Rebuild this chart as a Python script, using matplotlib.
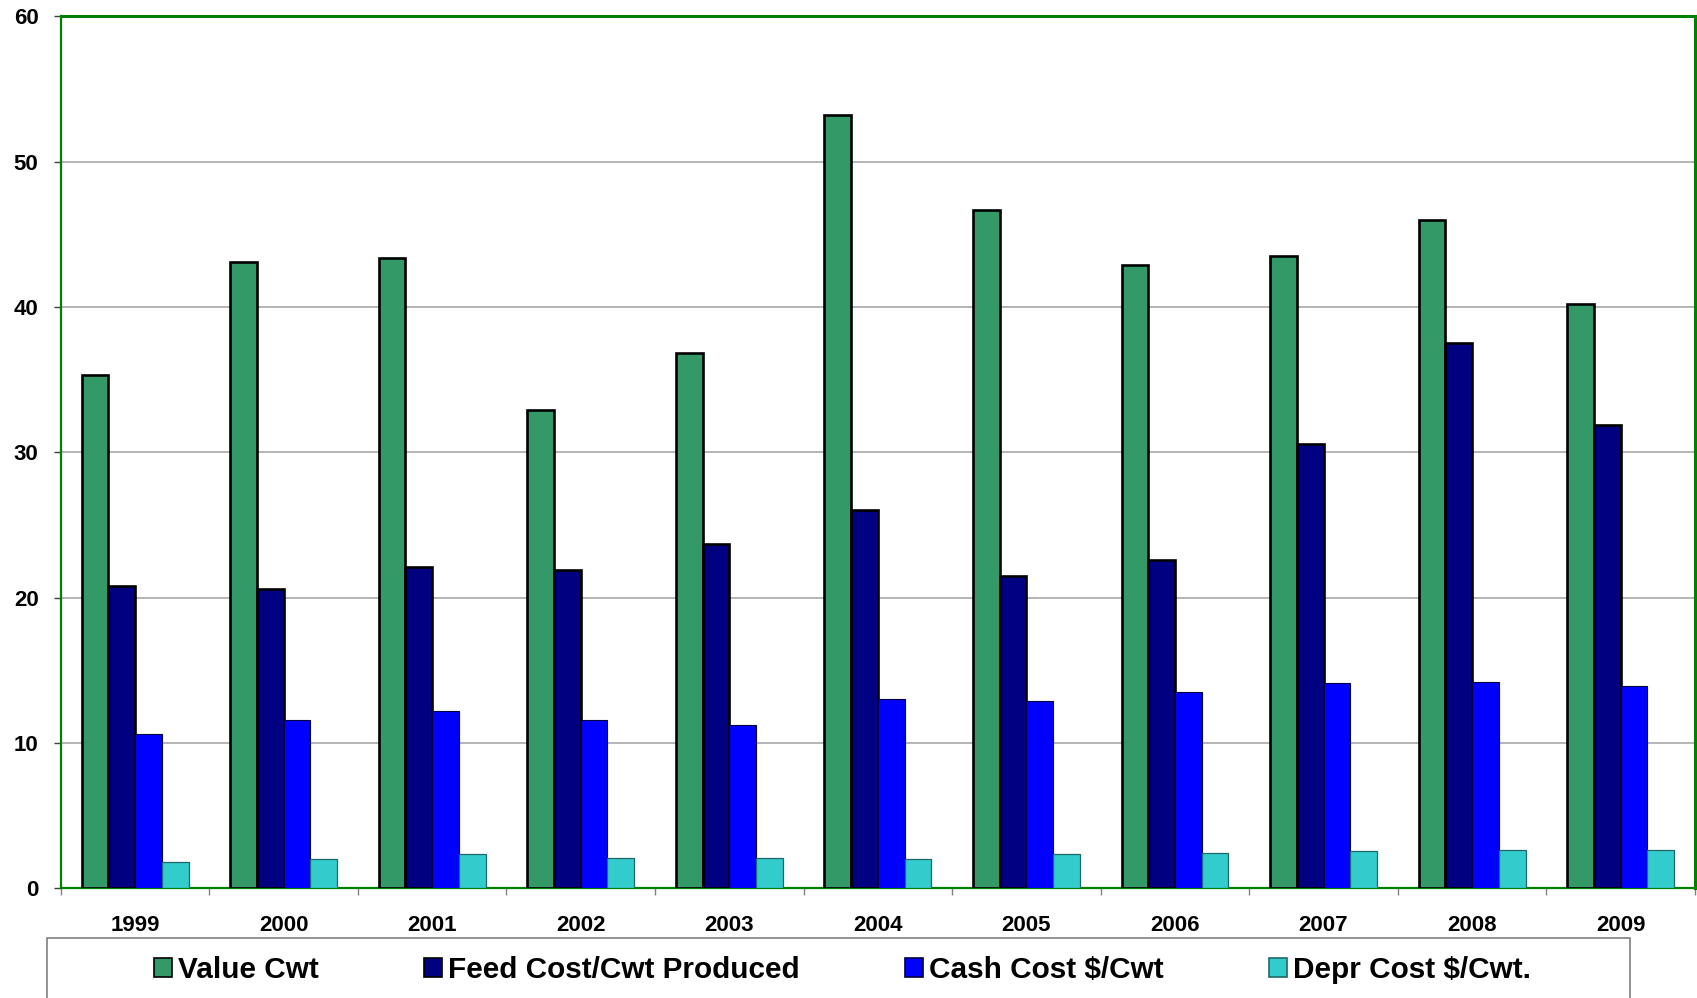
import matplotlib
matplotlib.use("Agg")
import matplotlib.pyplot as plt
import numpy as np
from matplotlib.patches import Rectangle, Patch

years = ["1999", "2000", "2001", "2002", "2003", "2004", "2005", "2006", "2007", "2008", "2009"]
value_cwt = [35.3, 43.1, 43.4, 32.9, 36.8, 53.2, 46.7, 42.9, 43.5, 46.0, 40.2]
feed_cost = [20.8, 20.6, 22.1, 21.9, 23.7, 26.0, 21.5, 22.6, 30.6, 37.5, 31.9]
cash_cost = [10.6, 11.6, 12.2, 11.6, 11.2, 13.0, 12.9, 13.5, 14.1, 14.2, 13.9]
depr_cost = [1.8, 2.0, 2.35, 2.1, 2.05, 2.0, 2.35, 2.4, 2.55, 2.6, 2.6]

labels = ["Value Cwt", "Feed Cost/Cwt Produced", "Cash Cost $/Cwt", "Depr Cost $/Cwt."]
colors = ["#339966", "#000080", "#0000FF", "#33CCCC"]
edges = ["#000000", "#000000", "#000040", "#206868"]
edge_w = [1.9, 1.9, 0.8, 0.9]

plt.rcParams["font.family"] = ["Liberation Sans", "DejaVu Sans"]
plt.rcParams["font.weight"] = "bold"

fig = plt.figure(figsize=(16.97, 9.98), dpi=100)
ax = fig.add_axes([0.0358, 0.110, 0.963, 0.8737])

x = np.arange(len(years))
w = 0.18
series = [value_cwt, feed_cost, cash_cost, depr_cost]
for i, vals in enumerate(series):
    ax.bar(x + (i - 1.5) * w, vals, w, color=colors[i], edgecolor=edges[i],
           linewidth=edge_w[i], zorder=3)

ax.set_xlim(-0.5, len(years) - 0.5)
ax.set_ylim(0, 60)
ax.set_yticks(range(0, 61, 10))
ax.yaxis.grid(True, color="#A0A0A0", linewidth=1.1, zorder=0)
ax.set_axisbelow(True)

ax.set_xticks(x)
ax.set_xticklabels(years, fontsize=16, fontweight="bold")
ax.tick_params(axis="x", which="major", length=0, pad=19)
ax.set_xticks(np.arange(-0.5, len(years)), minor=True)
ax.tick_params(axis="x", which="minor", length=5, color="#808080", width=1)
ax.tick_params(axis="y", length=5, color="#404040", width=1, pad=11, labelsize=16)
for t in ax.get_yticklabels():
    t.set_fontweight("bold")

for s in ax.spines.values():
    s.set_color("#008000")
    s.set_linewidth(1.6)
ax.spines["top"].set_linewidth(2.2)
ax.spines["right"].set_linewidth(2.2)

# legend box (bottom cut off by the figure edge)
fig.patches.append(Rectangle((47 / 1697, -0.03), (1630 - 47) / 1697, 0.0598 + 0.03,
                             transform=fig.transFigure, facecolor="white",
                             edgecolor="#808080", linewidth=1.2, clip_on=False))
handles = [Patch(facecolor=colors[i], edgecolor="#000000" if i < 2 else edges[i], linewidth=1.2)
           for i in range(4)]
fig.legend(handles, labels, loc="center left", bbox_to_anchor=(154 / 1697, 1 - 970 / 998),
           ncol=4, frameon=False, prop={"weight": "bold", "size": 21.4},
           handlelength=0.6, handleheight=0.6, handletextpad=0.2, columnspacing=3.55,
           borderpad=0, borderaxespad=0)

fig.savefig("out.png", dpi=100)
